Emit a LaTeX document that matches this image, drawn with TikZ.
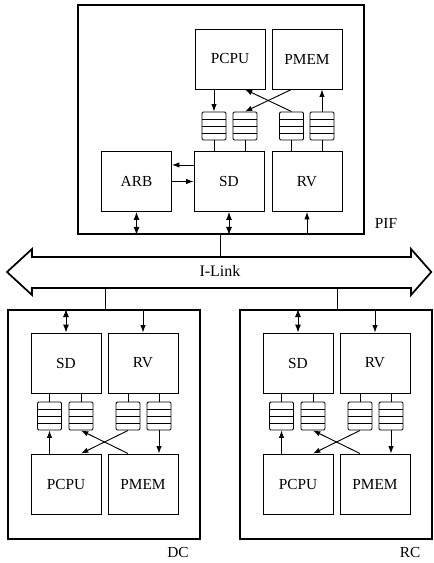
\documentclass[tikz,border=0pt]{standalone}
\usepackage{fontspec}
\setmainfont{Liberation Serif}
\usetikzlibrary{arrows.meta,calc}
\tikzset{
  frame/.style={draw, line width=1.4pt, inner sep=0pt},
  unitbox/.style={draw, line width=0.7pt, minimum width=52.5pt, minimum height=45pt, inner sep=0pt, font=\fontsize{11.5}{13}\selectfont},
  qbox/.style={draw, line width=0.7pt, rounded corners=1pt, minimum width=18pt, minimum height=21pt, inner sep=0pt,
    path picture={\foreach \f in {0.25,0.5,0.75}{\draw[line width=0.7pt] ($(path picture bounding box.north west)!\f!(path picture bounding box.south west)$) -- ($(path picture bounding box.north east)!\f!(path picture bounding box.south east)$);}}},
  conn/.style={line width=0.7pt},
  arr/.style={conn, -{Latex[length=5.5pt,width=4pt]}},
  darr/.style={conn, {Latex[length=6pt,width=4.5pt]}-{Latex[length=6pt,width=4.5pt]}},
  lbl/.style={font=\fontsize{11.5}{13}\selectfont, inner sep=0pt},
}
\newcommand\mycluster[3]{%
  \begin{scope}[shift={(#2,0)}]
    \node[frame, minimum width=144pt, minimum height=171.75pt] (#1box) at (104,424.5) {};
    \node[lbl] (#1lbl) at (178,552) {#3};
    \node[unitbox] (#1sd) at (66,363) {SD};
    \node[unitbox] (#1rv) at (143,363) {RV};
    \node[unitbox] (#1pcpu) at (66,484) {PCPU};
    \node[unitbox] (#1pmem) at (143,484) {PMEM};
    \node[qbox] (#1q1) at (49.5,416) {};
    \node[qbox] (#1q2) at (81,416) {};
    \node[qbox] (#1q3) at (128,416) {};
    \node[qbox] (#1q4) at (159,416) {};
    \coordinate (#1link) at (105,288);
    \draw[conn] (#1link) -- (#1link |- #1box.north);
    \draw[darr] (#1sd.north |- #1box.north) -- (#1sd.north);
    \draw[arr] (#1rv.north |- #1box.north) -- (#1rv.north);
    \draw[conn] (#1sd.south -| #1q1) -- (#1q1.north);
    \draw[conn] (#1sd.south -| #1q2) -- (#1q2.north);
    \draw[conn] (#1rv.south -| #1q3) -- (#1q3.north);
    \draw[conn] (#1rv.south -| #1q4) -- (#1q4.north);
    \draw[arr] (#1pcpu.north -| #1q1) -- (#1q1.south);
    \draw[arr] (#1q4.south) -- (#1q4.south |- #1pmem.north);
    \draw[arr] (#1pmem.north -| #1q3) -- (#1q2.south);
    \draw[arr] (#1q3.south) -- (#1pcpu.north -| #1q2);
  \end{scope}}
\begin{document}
\begin{tikzpicture}[x=0.75pt,y=-0.75pt]
\useasboundingbox (0,0) rectangle (433,563);
% PIF
\node[frame, minimum width=214.5pt, minimum height=171.75pt] (pif) at (221,119.5) {};
\node[lbl] (piflbl) at (386,223) {PIF};
\node[unitbox] (ppcpu) at (230,59) {PCPU};
\node[unitbox] (ppmem) at (307,59) {PMEM};
\node[unitbox] (parb) at (136.5,181.5) {ARB};
\node[unitbox] (psd) at (229,181.5) {SD};
\node[unitbox] (prv) at (307,181.5) {RV};
\node[qbox] (pq1) at (214,126) {};
\node[qbox] (pq2) at (245,126) {};
\node[qbox] (pq3) at (291.5,126) {};
\node[qbox] (pq4) at (322,126) {};
\draw[conn] (pq1.south) -- (pq1.south |- psd.north);
\draw[conn] (pq2.south) -- (pq2.south |- psd.north);
\draw[conn] (pq3.south) -- (pq3.south |- prv.north);
\draw[conn] (pq4.south) -- (pq4.south |- prv.north);
\draw[arr] (ppcpu.south -| pq1) -- (pq1.north);
\draw[arr] (pq4.north) -- (pq4.north |- ppmem.south);
\draw[arr] (ppmem.south -| pq3) -- (pq2.north);
\draw[arr] (pq3.north) -- (ppcpu.south -| pq2);
\draw[arr] ([yshift=12.4pt]psd.west) -- ([yshift=12.4pt]parb.east);
\draw[arr] (parb.east) -- (psd.west);
\draw[darr] (parb.south) -- (parb.south |- pif.south);
\draw[darr] (psd.south) -- (psd.south |- pif.south);
\draw[arr] (prv.south |- pif.south) -- (prv.south);
% I-Link
\draw[line width=1.3pt, line join=miter]
  (7,272) -- (32,249) -- (32,257) -- (411,257) -- (411,249) -- (431.3,272)
  -- (411,295) -- (411,288) -- (32,288) -- (32,295) -- cycle;
\node[lbl, font=\fontsize{12}{13}\selectfont] (ilink) at (220,271) {I-Link};
\coordinate (ltop) at (220,257);
\draw[conn] (pif.south -| ltop) -- (ltop);
% lower clusters
\mycluster{d}{0}{DC}
\mycluster{r}{232}{RC}
\end{tikzpicture}
\end{document}
